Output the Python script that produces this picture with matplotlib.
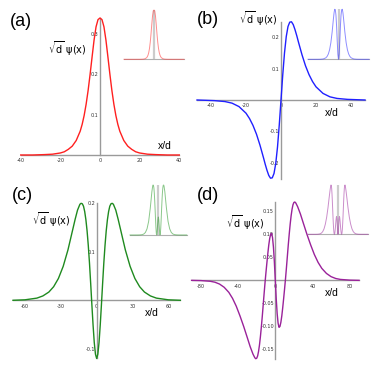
import matplotlib
matplotlib.use("Agg")
import matplotlib.pyplot as plt
import numpy as np

# wavefunction values (x in units of d)
a_x = [-40, -34, -28, -24, -20, -18, -16, -14, -12, -10, -9, -8, -7, -6, -5, -4, -3, -2, -1,
       0, 1, 2, 3, 4, 5, 6, 7, 8, 9, 10, 12, 14, 16, 18, 20, 24, 28, 34, 40]
a_psi = [0.000, 0.000, 0.001, 0.002, 0.005, 0.008, 0.014, 0.022, 0.036, 0.059, 0.076, 0.098,
         0.126, 0.160, 0.200, 0.243, 0.285, 0.318, 0.336, 0.340, 0.336, 0.318, 0.285, 0.243,
         0.200, 0.160, 0.126, 0.098, 0.076, 0.059, 0.036, 0.022, 0.014, 0.008, 0.005, 0.002,
         0.001, 0.000, 0.000]

b_x = [-48, -38, -32, -28, -24, -20, -18, -16, -14, -12, -10, -9, -8, -7, -6, -5, -4, -3, -2, -1,
       0, 1, 2, 3, 4, 5, 6, 7, 8, 9, 10, 12, 14, 16, 18, 20, 24, 28, 32, 38, 48]
b_psi = [0.000, -0.002, -0.005, -0.010, -0.021, -0.042, -0.059, -0.081, -0.109, -0.144, -0.184,
         -0.205, -0.224, -0.240, -0.249, -0.248, -0.234, -0.202, -0.150, -0.080, 0.000,
         0.080, 0.150, 0.202, 0.234, 0.248, 0.249, 0.240, 0.224, 0.205, 0.184, 0.144, 0.109,
         0.081, 0.059, 0.042, 0.021, 0.010, 0.005, 0.002, 0.000]

c_x = [-70, -60, -50, -45, -40, -36, -32, -28, -24, -20, -18, -16, -14, -13, -12, -11, -10, -9,
       -8, -7, -6, -5, -4, -3, -2, -1, 0, 1, 2, 3, 4, 5, 6, 7, 8, 9, 10, 11, 12, 13, 14, 16, 18,
       20, 24, 28, 32, 36, 40, 45, 50, 60, 70]
c_psi = [0.000, 0.001, 0.0045, 0.009, 0.017, 0.028, 0.045, 0.070, 0.104, 0.146, 0.167, 0.186,
         0.198, 0.200, 0.199, 0.194, 0.183, 0.166, 0.143, 0.113, 0.077, 0.035, -0.009, -0.051,
         -0.087, -0.111, -0.120, -0.111, -0.087, -0.051, -0.009, 0.035, 0.077, 0.113, 0.143,
         0.166, 0.183, 0.194, 0.199, 0.200, 0.198, 0.186, 0.167, 0.146, 0.104, 0.070, 0.045,
         0.028, 0.017, 0.009, 0.0045, 0.001, 0.000]

d_x = [-90, -80, -70, -65, -60, -55, -50, -46, -42, -38, -34, -30, -27, -24, -22, -21, -20, -19,
       -18, -17, -16, -15, -14, -13, -12, -11, -10, -9, -8, -7, -6, -5, -4, -3, -2, -1, 0,
       1, 2, 3, 4, 5, 6, 7, 8, 9, 10, 11, 12, 13, 14, 15, 16, 17, 18, 19, 20, 21, 22, 24, 27,
       30, 34, 38, 42, 46, 50, 55, 60, 65, 70, 80, 90]
d_psi = [0.000, -0.0005, -0.002, -0.004, -0.008, -0.015, -0.026, -0.039, -0.056, -0.077, -0.100,
         -0.125, -0.144, -0.160, -0.168, -0.170, -0.169, -0.164, -0.154, -0.140, -0.122, -0.101,
         -0.078, -0.053, -0.028, -0.004, 0.018, 0.039, 0.059, 0.077, 0.091, 0.100, 0.102,
         0.093, 0.072, 0.040, 0.000, -0.040, -0.072, -0.093, -0.102, -0.100, -0.091, -0.077,
         -0.059, -0.039, -0.018, 0.004, 0.028, 0.053, 0.078, 0.101, 0.122, 0.140, 0.154, 0.164,
         0.169, 0.170, 0.168, 0.160, 0.144, 0.125, 0.100, 0.077, 0.056, 0.039, 0.026, 0.015,
         0.008, 0.004, 0.002, 0.0005, 0.000]

a_xticks, a_yticks = [-40, -20, 0, 20, 40], [0.1, 0.2, 0.3]
b_xticks, b_yticks = [-40, -20, 0, 20, 40], [-0.2, -0.1, 0.1, 0.2]
c_xticks, c_yticks = [-60, -30, 0, 30, 60], [-0.1, 0.1, 0.2]
d_xticks, d_yticks = [-80, -40, 0, 40, 80], [-0.15, -0.10, -0.05, 0.05, 0.10, 0.15]

plt.rcParams['axes.unicode_minus'] = False
plt.rcParams['mathtext.fontset'] = 'dejavusans'

W = 374
fig = plt.figure(figsize=(3.74, 3.74), dpi=100)


def rect(l, r, t, b):
    return [l / W, 1 - b / W, (r - l) / W, (b - t) / W]


def main_panel(box, x, psi, color, xlim, ylim, xticks, yticks, fmt):
    ax = fig.add_axes(rect(*box))
    ax.patch.set_visible(False)
    ax.plot(x, psi, color=color, lw=1.0, zorder=3, clip_on=False)
    ax.set_xlim(xlim)
    ax.set_ylim(ylim)
    for s in ['top', 'right']:
        ax.spines[s].set_visible(False)
    for s in ['left', 'bottom']:
        ax.spines[s].set_position(('data', 0))
        ax.spines[s].set_color('#9a9a9a')
        ax.spines[s].set_linewidth(1.0)
    ax.set_xticks(xticks)
    ax.set_xticklabels([str(t) for t in xticks])
    ax.set_yticks(yticks)
    ax.set_yticklabels([fmt % t for t in yticks])
    ax.tick_params(length=0, labelsize=3.5, labelcolor='#333333')
    ax.tick_params(axis='x', pad=2.5)
    ax.tick_params(axis='y', pad=1.0)
    return ax


def inset(box, x, psi, color, xlim):
    ax = fig.add_axes(rect(*box))
    dens = np.array(psi) ** 2
    ax.axvline(0, color='#cccccc', lw=1.6, zorder=1)
    ax.axhline(0, color='#b0b0b0', lw=0.8, zorder=1, clip_on=False)
    ax.plot(x, dens / dens.max(), color=color, lw=0.7, alpha=0.55, zorder=2, clip_on=False)
    ax.set_xlim(xlim)
    ax.set_ylim(0, 1)
    ax.axis('off')


# (a)
main_panel((20.7, 179.3, 18, 155), a_x, a_psi, '#ff2020', (-40, 40), (0, 0.34),
           a_xticks, a_yticks, '%.1f')
inset((124, 184, 10, 59.3), a_x, a_psi, '#ff3030', (-40, 40))
# (b)
main_panel((197, 365, 21.5, 178.5), b_x, b_psi, '#2020ff', (-48, 48), (-0.25, 0.25),
           b_xticks, b_yticks, '%.1f')
inset((308, 369, 9.3, 59.3), b_x, b_psi, '#3030ff', (-48, 48))
# (c)
main_panel((13, 180.3, 203.3, 358.5), c_x, c_psi, '#1f8a1f', (-70, 70), (-0.12, 0.2),
           c_xticks, c_yticks, '%.1f')
inset((130, 186.7, 185, 235), c_x, c_psi, '#2a9a2a', (-70, 70))
# (d)
main_panel((191.6, 359, 202, 358.7), d_x, d_psi, '#9a229a', (-90, 90), (-0.17, 0.17),
           d_xticks, d_yticks, '%.2f')
inset((308, 368, 185, 234.3), d_x, d_psi, '#a030a0', (-90, 90))

# panel letters and axis names
ylab = r'$\sqrt{\rm d}\ \psi({\rm x})$'
for lab, (px, py) in zip(['(a)', '(b)', '(c)', '(d)'],
                         [(21, 21), (208, 20), (22, 195), (208, 195)]):
    fig.text(px / W, 1 - py / W, lab, fontsize=13, ha='center', va='center',
             family='Liberation Sans')
for (px, py) in [(67, 49), (258, 19), (51, 220), (245, 223)]:
    fig.text(px / W, 1 - py / W, ylab, fontsize=7, ha='center', va='center')
for (px, py) in [(165, 146), (332, 113), (152, 313), (332, 293)]:
    fig.text(px / W, 1 - py / W, 'x/d', fontsize=7.5, ha='center', va='center',
             family='Liberation Sans')

fig.savefig('out.png', dpi=100)
plt.close(fig)
